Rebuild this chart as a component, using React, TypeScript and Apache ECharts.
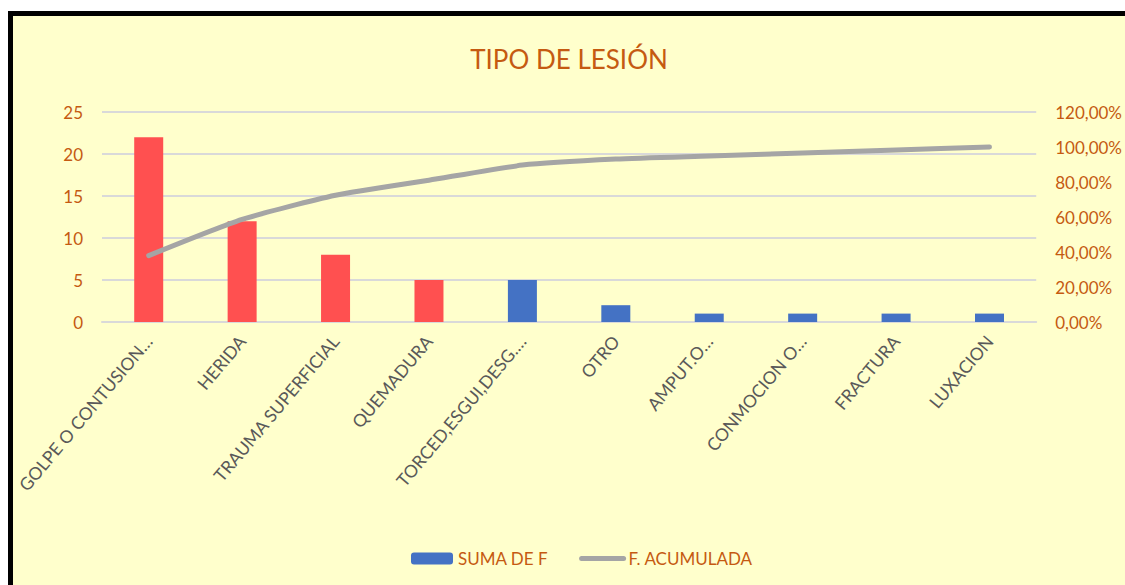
import React, { useEffect, useRef } from "react";
import * as echarts from "echarts";

const categories = [
  "GOLPE O CONTUSION…",
  "HERIDA",
  "TRAUMA SUPERFICIAL",
  "QUEMADURA",
  "TORCED,ESGUI,DESG.…",
  "OTRO",
  "AMPUT.O…",
  "CONMOCION O…",
  "FRACTURA",
  "LUXACION",
];
const sumaDeF = [22, 12, 8, 5, 5, 2, 1, 1, 1, 1];
const acumulada = [37.93, 58.62, 72.41, 81.03, 89.66, 93.1, 94.83, 96.55, 98.28, 100];
const highlighted = [true, true, true, true, false, false, false, false, false, false];

const FONT = "Lato, 'Open Sans', sans-serif";
const ORANGE = "#C55A11";

export default function App() {
  const ref = useRef<HTMLDivElement>(null);
  useEffect(() => {
    if (!ref.current) return;
    const chart = echarts.init(ref.current, undefined, { renderer: "svg" });
    chart.setOption({
      animation: false,
      backgroundColor: "#FFFFCC",
      textStyle: { fontFamily: FONT },
      title: {
        text: "TIPO DE LESIÓN",
        left: "center",
        top: 25,
        textStyle: { color: ORANGE, fontSize: 26, fontWeight: "normal", fontFamily: FONT },
      },
      legend: {
        left: 393,
        top: 529,
        itemWidth: 42,
        itemHeight: 12,
        itemGap: 31,
        textStyle: { color: ORANGE, fontSize: 17, fontFamily: FONT },
        data: [
          { name: "SUMA DE F" },
          {
            name: "F. ACUMULADA",
            itemStyle: { opacity: 0 },
            lineStyle: { width: 5, cap: "round", color: "#A5A5A5" },
          },
        ],
      },
      grid: { left: 89, right: 88, top: 96, bottom: 263, containLabel: false },
      xAxis: {
        type: "category",
        data: categories,
        axisLine: { lineStyle: { color: "#D9D9D9", width: 2 } },
        axisTick: { show: false },
        axisLabel: {
          rotate: 50,
          interval: 0,
          color: "#595959",
          fontSize: 17.5,
          margin: 16,
          fontFamily: FONT,
        },
      },
      yAxis: [
        {
          type: "value",
          min: 0,
          max: 25,
          interval: 5,
          axisLine: { show: false },
          axisTick: { show: false },
          splitLine: { lineStyle: { color: "#D9D9D9", width: 2 } },
          axisLabel: { color: ORANGE, fontSize: 17, margin: 19, fontFamily: FONT },
        },
        {
          type: "value",
          min: 0,
          max: 120,
          interval: 20,
          axisLine: { show: false },
          axisTick: { show: false },
          splitLine: { show: false },
          axisLabel: {
            color: ORANGE,
            fontSize: 17,
            margin: 19,
            fontFamily: FONT,
            formatter: (v: number) => v.toFixed(2).replace(".", ",") + "%",
          },
        },
      ],
      series: [
        {
          name: "SUMA DE F",
          type: "bar",
          barWidth: 29,
          itemStyle: { color: "#4472C4" },
          data: sumaDeF.map((v, i) => ({
            value: v,
            itemStyle: { color: highlighted[i] ? "#FF5050" : "#4472C4" },
          })),
        },
        {
          name: "F. ACUMULADA",
          type: "line",
          yAxisIndex: 1,
          symbol: "none",
          smooth: 0.2,
          lineStyle: { color: "#A5A5A5", width: 5, cap: "round", join: "round" },
          itemStyle: { color: "#A5A5A5" },
          data: acumulada,
        },
      ],
    });
    return () => chart.dispose();
  }, []);
  return (
    <div
      style={{
        position: "fixed",
        left: 8,
        top: 11,
        width: 1140,
        height: 600,
        borderLeft: "5px solid #000",
        borderTop: "5px solid #000",
        background: "#FFFFCC",
        boxSizing: "border-box",
      }}
    >
      <div ref={ref} style={{ width: 1112, height: 569 }} />
    </div>
  );
}
